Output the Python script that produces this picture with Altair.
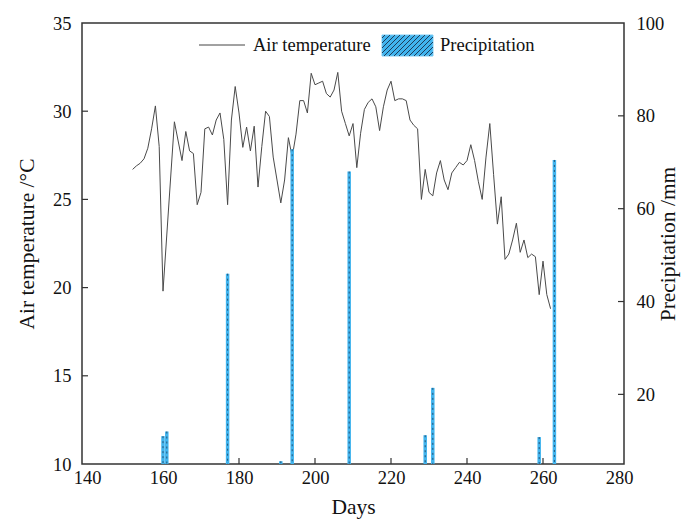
import altair as alt
import pandas as pd
import numpy as np

# ---------------- data ----------------
temp_days = [152, 153, 154, 155, 156, 157, 158, 159, 160, 163, 165, 166, 167, 168, 169, 170,
             171, 172, 173, 174, 175, 176, 177, 178, 179, 180, 181, 182, 183, 184, 185, 186,
             187, 188, 189, 191, 192, 193, 194, 195, 196, 197, 198, 199, 200, 201, 202, 203,
             204, 205, 206, 207, 208, 209, 210, 211, 212, 213, 214, 215, 216, 217, 218, 219,
             220, 221, 222, 223, 224, 225, 226, 227, 228, 229, 230, 231, 232, 233, 234, 235,
             236, 237, 238, 239, 240, 241, 242, 243, 244, 245, 246, 247, 248, 249, 250, 251,
             252, 253, 254, 255, 256, 257, 258, 259, 260, 261, 262]
temp_vals = [26.7, 26.9, 27.05, 27.3, 27.9, 29.0, 30.3, 28.0, 19.8, 29.4, 27.2, 28.85, 27.75, 27.6, 24.7, 25.4,
             29.0, 29.1, 28.65, 29.5, 29.9, 28.4, 24.7, 29.5, 31.4, 29.9, 27.95, 29.1, 27.75, 29.15, 25.7, 28.0,
             30.0, 29.7, 27.4, 24.8, 26.1, 28.5, 27.4, 28.7, 30.6, 30.6, 29.9, 32.15, 31.5, 31.6, 31.7, 31.0,
             30.8, 31.2, 32.2, 30.0, 29.3, 28.6, 29.3, 26.8, 28.75, 30.1, 30.5, 30.7, 30.25, 28.9, 30.25, 31.2,
             31.7, 30.6, 30.7, 30.7, 30.6, 29.5, 29.2, 29.0, 25.0, 26.7, 25.4, 25.2, 26.5, 27.2, 26.1, 25.55,
             26.5, 26.8, 27.1, 26.95, 27.2, 28.1, 27.2, 26.0, 25.0, 27.4, 29.3, 26.4, 23.6, 25.15, 21.6, 21.9,
             22.7, 23.65, 22.0, 22.7, 21.7, 21.9, 21.75, 19.6, 21.5, 19.6, 18.8]

precip_days = [160, 161, 177, 191, 194, 209, 229, 231, 259, 263]
precip_vals = [11.0, 12.0, 46.0, 5.6, 72.8, 68.0, 11.2, 21.4, 10.8, 70.5]

x_ticks = [140, 160, 180, 200, 220, 240, 260, 280]
left_ticks = [10, 15, 20, 25, 30, 35]
right_ticks = [20, 40, 60, 80, 100]

# ---------------- layout ----------------
W, H = 542, 441
FONT = "Liberation Serif"
BAR_BLUE = "#41B4EE"
HATCH = "#1f3d5a"
LAB = 18.5
TIT = 21.5

temp_df = pd.DataFrame({"day": temp_days, "temp": temp_vals})
prec_df = pd.DataFrame({"day": precip_days, "prec": precip_vals})

xscale = alt.Scale(domain=[140, 280], nice=False, zero=False)
lscale = alt.Scale(domain=[10, 35], nice=False, zero=False)
rscale = alt.Scale(domain=[5, 100], nice=False, zero=False)

xaxis = alt.Axis(values=x_ticks, format="d", ticks=False, domain=False, grid=False,
                 labelFont=FONT, labelFontSize=LAB, labelColor="#111", labelPadding=4,
                 title="Days", titleFont=FONT, titleFontSize=TIT, titleFontWeight="normal",
                 titleColor="#111", titlePadding=10)
laxis = alt.Axis(values=left_ticks, format="d", ticks=False, domain=False, grid=False,
                 labelFont=FONT, labelFontSize=LAB, labelColor="#111", labelPadding=11,
                 title="Air temperature /°C", titleFont=FONT, titleFontSize=TIT,
                 titleFontWeight="normal", titleColor="#111", titlePadding=14)
raxis = alt.Axis(values=right_ticks, format="d", ticks=False, domain=False, grid=False,
                 orient="right",
                 labelFont=FONT, labelFontSize=LAB, labelColor="#111", labelPadding=12,
                 title="Precipitation /mm", titleFont=FONT, titleFontSize=TIT,
                 titleFontWeight="normal", titleColor="#111", titlePadding=16,
                 titleAngle=270)

line = alt.Chart(temp_df).mark_line(color="#4a4a4a", strokeWidth=1).encode(
    x=alt.X("day:Q", scale=xscale, axis=xaxis),
    y=alt.Y("temp:Q", scale=lscale, axis=laxis),
)

ltick_df = pd.DataFrame({"temp": left_ticks[1:-1]})
ltick = alt.Chart(ltick_df).mark_rule(color="#333", strokeWidth=1.2).encode(
    y=alt.Y("temp:Q", scale=lscale, axis=laxis),
    x=alt.value(0), x2=alt.value(6),
)
btick_df = pd.DataFrame({"day": x_ticks[1:-1]})
btick = alt.Chart(btick_df).mark_rule(color="#333", strokeWidth=1.2).encode(
    x=alt.X("day:Q", scale=xscale, axis=xaxis),
    y=alt.value(H), y2=alt.value(H - 6),
)

left_layer = alt.layer(line, ltick, btick)

bars = alt.Chart(prec_df).mark_bar(color=BAR_BLUE, size=3.5, clip=True).encode(
    x=alt.X("day:Q", scale=xscale, axis=xaxis),
    y=alt.Y("prec:Q", scale=rscale, axis=raxis),
)
hatch = alt.Chart(prec_df).mark_rule(color=HATCH, strokeWidth=1, strokeDash=[2, 3],
                                     opacity=0.8, clip=True).encode(
    x=alt.X("day:Q", scale=xscale, axis=xaxis),
    y=alt.Y("prec:Q", scale=rscale, axis=raxis),
    y2=alt.value(H),
)
rtick_df = pd.DataFrame({"prec": right_ticks[:-1]})
rtick = alt.Chart(rtick_df).mark_rule(color="#333", strokeWidth=1.2).encode(
    y=alt.Y("prec:Q", scale=rscale, axis=raxis),
    x=alt.value(W), x2=alt.value(W - 6),
)

right_layer = alt.layer(bars, hatch, rtick)

# ---------------- legend (decoration) ----------------
leg_line = alt.Chart(pd.DataFrame({"a": [0]})).mark_rule(color="#444", strokeWidth=1).encode(
    x=alt.value(117), x2=alt.value(163), y=alt.value(22)
)
leg_text = alt.Chart(pd.DataFrame({"t": ["Air temperature", "Precipitation"],
                                   "px": [171, 358]})).mark_text(
    font=FONT, fontSize=18.5, color="#111", align="left", baseline="middle"
).encode(x=alt.X("px:Q", scale=None), y=alt.value(22), text="t:N")

rx0, ry0, rw, rh = 300, 12, 51, 21
leg_rect = alt.Chart(pd.DataFrame({"a": [0]})).mark_rect(color=BAR_BLUE, stroke="#7cccf4",
                                                         strokeWidth=1).encode(
    x=alt.value(rx0), x2=alt.value(rx0 + rw), y=alt.value(ry0), y2=alt.value(ry0 + rh)
)
segs = []
for c in np.arange(-rh + 3, rw, 5):
    xa, ya = c, rh
    xb, yb = c + rh, 0
    if xa < 0:
        ya = rh + xa
        xa = 0
    if xb > rw:
        yb = xb - rw
        xb = rw
    segs.append({"x1": rx0 + xa, "y1": ry0 + ya, "x2": rx0 + xb, "y2": ry0 + yb})
leg_hatch = alt.Chart(pd.DataFrame(segs)).mark_rule(color=HATCH, strokeWidth=1).encode(
    x=alt.X("x1:Q", scale=None), x2="x2:Q",
    y=alt.Y("y1:Q", scale=None), y2="y2:Q",
)

legend_layer = alt.layer(leg_line, leg_text, leg_rect, leg_hatch)

chart = alt.layer(left_layer, right_layer, legend_layer).resolve_scale(
    y="independent", x="shared"
).properties(
    width=W, height=H,
    autosize=alt.AutoSizeParams(type="none"),
    padding={"left": 74, "top": 15, "right": 59, "bottom": 56},
).configure(
    background="white",
    view=alt.ViewConfig(stroke="#333", strokeWidth=1.5),
)

chart.save("out.html", embed_options={"renderer": "svg", "actions": False})
